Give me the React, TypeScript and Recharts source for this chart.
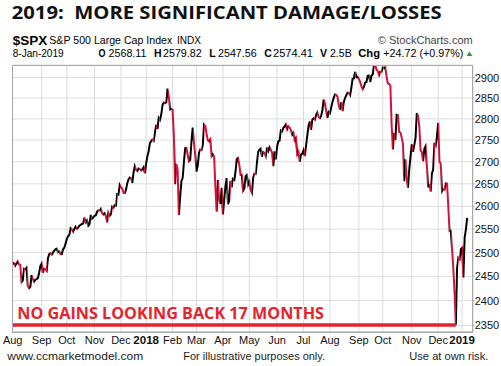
import React from "react";
import { LineChart, Line, XAxis, YAxis, CartesianGrid, ReferenceLine } from "recharts";

// S&P 500 daily closes, 1-Aug-2017 .. 8-Jan-2019 (trading-day index = position)
const closes: number[] = [
  // Aug 2017
  2476.35, 2477.57, 2472.16, 2476.83, 2480.91, 2474.92, 2474.02, 2438.21, 2441.32, 2465.84,
  2464.61, 2468.11, 2430.01, 2425.55, 2428.37, 2452.51, 2444.04, 2438.97, 2443.05, 2444.24,
  2446.3, 2457.59, 2471.65,
  // Sep 2017
  2476.55, 2457.85, 2465.54, 2465.1, 2461.43, 2488.11, 2496.48, 2498.37, 2495.62, 2500.23,
  2503.87, 2506.65, 2508.24, 2500.6, 2502.22, 2496.66, 2496.84, 2507.04, 2510.06, 2519.36,
  // Oct 2017
  2529.12, 2534.58, 2537.74, 2552.07, 2549.33, 2544.73, 2550.64, 2555.24, 2550.93, 2553.17,
  2557.64, 2559.36, 2561.26, 2562.1, 2575.21, 2564.98, 2569.13, 2557.15, 2560.4, 2581.07,
  2572.83, 2575.26,
  // Nov 2017
  2579.36, 2579.85, 2587.84, 2591.13, 2590.64, 2594.38, 2584.62, 2582.3, 2584.84, 2578.87,
  2564.62, 2585.64, 2578.85, 2582.14, 2599.03, 2597.08, 2602.42, 2601.42, 2627.04, 2626.07,
  2647.58,
  // Dec 2017
  2642.22, 2639.44, 2629.57, 2629.27, 2636.98, 2651.5, 2659.99, 2664.11, 2662.85, 2652.01,
  2675.81, 2690.16, 2681.47, 2679.25, 2684.57, 2683.34, 2680.5, 2682.62, 2687.54, 2673.61,
  // Jan 2018
  2695.81, 2713.06, 2723.99, 2743.15, 2747.71, 2751.29, 2748.23, 2767.56, 2786.24, 2776.42,
  2802.56, 2798.03, 2810.3, 2832.97, 2839.13, 2837.54, 2839.25, 2872.87, 2853.53, 2822.43,
  2823.81,
  // Feb 2018
  2821.98, 2762.13, 2648.94, 2695.14, 2681.66, 2581.0, 2619.55, 2656.0, 2662.94, 2698.63,
  2731.2, 2732.22, 2716.26, 2701.33, 2703.96, 2747.3, 2779.6, 2744.28, 2713.83,
  // Mar 2018
  2677.67, 2691.25, 2720.94, 2728.12, 2726.8, 2738.97, 2786.57, 2783.02, 2765.31, 2749.48,
  2747.33, 2752.01, 2712.92, 2716.94, 2711.93, 2643.69, 2588.26, 2658.55, 2612.62, 2605.0,
  2640.87,
  // Apr 2018
  2581.88, 2614.45, 2644.69, 2662.84, 2604.47, 2613.16, 2656.87, 2642.19, 2663.99, 2656.3,
  2677.84, 2706.39, 2708.64, 2693.13, 2670.14, 2670.29, 2634.56, 2639.4, 2666.94, 2669.91,
  2648.05,
  // May 2018
  2654.8, 2635.67, 2629.73, 2663.42, 2672.63, 2671.92, 2697.79, 2723.07, 2727.72, 2730.13,
  2711.45, 2722.46, 2720.13, 2712.97, 2733.01, 2724.44, 2733.29, 2727.76, 2721.33, 2689.86,
  2724.01, 2705.27,
  // Jun 2018
  2734.62, 2746.87, 2748.8, 2772.35, 2770.37, 2779.03, 2782.0, 2786.85, 2775.63, 2782.49,
  2779.66, 2773.75, 2762.59, 2767.32, 2749.76, 2754.88, 2717.07, 2723.06, 2699.63, 2716.31,
  2718.37,
  // Jul 2018
  2726.71, 2713.22, 2736.61, 2759.82, 2784.17, 2793.84, 2774.02, 2798.29, 2801.31, 2798.43,
  2809.55, 2815.62, 2804.49, 2801.83, 2806.98, 2820.4, 2846.07, 2837.44, 2818.82, 2802.6,
  2816.29,
  // Aug 2018
  2813.36, 2827.22, 2840.35, 2850.4, 2858.45, 2857.7, 2853.58, 2833.28, 2821.93, 2839.96,
  2818.37, 2840.69, 2850.13, 2857.05, 2862.96, 2861.82, 2856.98, 2874.69, 2896.74, 2897.52,
  2914.04, 2901.13, 2901.52,
  // Sep 2018
  2896.72, 2888.6, 2878.05, 2871.68, 2877.13, 2887.89, 2888.92, 2904.18, 2904.98, 2888.8,
  2904.31, 2907.95, 2930.75, 2929.67, 2919.37, 2915.56, 2905.97, 2914.0, 2913.98,
  // Oct 2018
  2924.59, 2923.43, 2925.51, 2901.61, 2885.57, 2884.43, 2880.34, 2785.68, 2728.37, 2767.13,
  2750.79, 2809.92, 2809.21, 2768.78, 2767.78, 2755.88, 2740.69, 2656.1, 2705.57, 2658.69,
  2641.25, 2682.63, 2711.74,
  // Nov 2018
  2740.37, 2723.06, 2738.31, 2755.45, 2813.89, 2806.83, 2781.01, 2726.22, 2722.18, 2701.58,
  2730.2, 2736.27, 2690.73, 2641.89, 2649.93, 2632.56, 2673.45, 2682.17, 2743.79, 2737.8,
  2760.17,
  // Dec 2018
  2790.37, 2700.06, 2695.95, 2633.08, 2637.72, 2636.78, 2651.07, 2650.54, 2599.95, 2545.94,
  2546.16, 2506.96, 2467.42, 2416.62, 2351.1, 2467.7, 2488.83, 2485.74, 2506.85,
  // Jan 2019
  2510.03, 2447.89, 2531.94, 2549.69, 2574.41,
];

const monthTicks: number[] = [0, 23, 43, 65, 86, 106, 127, 146, 167, 188, 210, 231, 252, 275, 294, 317, 338, 357];
const monthLabels: string[] = ["Aug", "Sep", "Oct", "Nov", "Dec", "2018", "Feb", "Mar", "Apr", "May", "Jun", "Jul", "Aug", "Sep", "Oct", "Nov", "Dec", "2019"];
const yTicks: number[] = [2350, 2400, 2450, 2500, 2550, 2600, 2650, 2700, 2750, 2800, 2850, 2900];
const lowIndex = 352;
const lowValue = 2351.1;

const UP = "#000000";
const DOWN = "#d3123c";

const rows = closes.map((v, i) => ({ t: i, v }));

const n = closes.length - 1;
const stops: { off: number; color: string }[] = [];
for (let i = 0; i < n; i++) {
  const c = closes[i + 1] >= closes[i] ? UP : DOWN;
  stops.push({ off: i / n, color: c });
  stops.push({ off: (i + 1) / n, color: c });
}

const AX_FONT = "'Liberation Sans', Arial, sans-serif";

const XTick = (props: any) => {
  const { x, y, payload } = props;
  const idx = monthTicks.indexOf(payload.value);
  const label = idx >= 0 ? monthLabels[idx] : "";
  const bold = /\d/.test(label);
  return (
    <text x={x} y={y + 12} textAnchor="middle" fontFamily={AX_FONT} fontSize={bold ? 11.5 : 11} fontWeight={bold ? 700 : 400} fill="#111">
      {label}
    </text>
  );
};

const YTick = (props: any) => {
  const { x, y, payload } = props;
  return (
    <text x={x} y={y + 4} textAnchor="start" fontFamily={AX_FONT} fontSize={11} fill="#111">
      {payload.value}
    </text>
  );
};

export default function App() {
  return (
    <div style={{ position: "absolute", left: 0, top: 0, width: 501, height: 366, background: "#fff", overflow: "hidden" }}>
      <LineChart width={501} height={366} data={rows} margin={{ top: 65, right: 0, bottom: 14, left: 12.7 }}>
        <defs>
          <linearGradient id="dirGrad" x1="0" y1="0" x2="1" y2="0">
            {stops.map((s, i) => (
              <stop key={i} offset={s.off} stopColor={s.color} />
            ))}
          </linearGradient>
        </defs>
        <CartesianGrid stroke="#dcdcdc" strokeWidth={1} />
        <XAxis
          dataKey="t"
          type="number"
          domain={[0, 365.4]}
          allowDataOverflow
          ticks={monthTicks}
          interval={0}
          tick={<XTick />}
          tickLine={false}
          tickSize={0}
          tickMargin={0}
          height={20}
          axisLine={{ stroke: "#a8a8a8" }}
        />
        <YAxis
          orientation="right"
          scale="log"
          domain={[2337, 2931]}
          allowDataOverflow
          ticks={yTicks}
          interval={0}
          tick={<YTick />}
          tickSize={2}
          tickMargin={0}
          tickLine={{ stroke: "#a8a8a8" }}
          width={28.3}
          axisLine={{ stroke: "#a8a8a8" }}
        />
        <ReferenceLine
          segment={[{ x: 0, y: lowValue }, { x: lowIndex, y: lowValue }]}
          stroke="#e5232c"
          strokeWidth={3.5}
          ifOverflow="visible"
        />
        <Line
          type="linear"
          dataKey="v"
          stroke="url(#dirGrad)"
          strokeWidth={2}
          dot={false}
          activeDot={false}
          isAnimationActive={false}
        />
      </LineChart>
      <div style={{ position: "absolute", left: 12, top: 64.5, width: 461, height: 268, border: "1px solid #a8a8a8", boxSizing: "border-box", pointerEvents: "none" }} />
      <svg width={501} height={366} style={{ position: "absolute", left: 0, top: 0, pointerEvents: "none" }}>
        <text x={11.7} y={19.3} fontFamily="'Open Sans', sans-serif" fontWeight={700} fontSize={18.5} fill="#111" textLength={430} lengthAdjust="spacingAndGlyphs" xmlSpace="preserve">
          2019:  MORE SIGNIFICANT DAMAGE/LOSSES
        </text>
        <text x={12.7} y={45} fontFamily={AX_FONT} fontWeight={700} fontSize={13.5} fill="#000">$SPX</text>
        <text x={49.3} y={44.3} fontFamily={AX_FONT} fontSize={11} fill="#000" textLength={123} lengthAdjust="spacingAndGlyphs">S&amp;P 500 Large Cap Index</text>
        <text x={177} y={44.3} fontFamily={AX_FONT} fontSize={10} fill="#000" textLength={24} lengthAdjust="spacingAndGlyphs">INDX</text>
        <text x={472.7} y={44.3} textAnchor="end" fontFamily={AX_FONT} fontSize={11} fill="#444">© StockCharts.com</text>
        <text x={12.7} y={56.7} fontFamily={AX_FONT} fontSize={10} fill="#000" textLength={51} lengthAdjust="spacingAndGlyphs">8-Jan-2019</text>
        <text x={98.5} y={56.7} fontFamily={AX_FONT} fontSize={10.5} fontWeight={700} fill="#000" textLength={7} lengthAdjust="spacingAndGlyphs">O</text>
        <text x={108.5} y={56.7} fontFamily={AX_FONT} fontSize={10.5} fill="#000" textLength={38} lengthAdjust="spacingAndGlyphs">2568.11</text>
        <text x={154} y={56.7} fontFamily={AX_FONT} fontSize={10.5} fontWeight={700} fill="#000">H</text>
        <text x={163} y={56.7} fontFamily={AX_FONT} fontSize={10.5} fill="#000" textLength={38.7} lengthAdjust="spacingAndGlyphs">2579.82</text>
        <text x={209.3} y={56.7} fontFamily={AX_FONT} fontSize={10.5} fontWeight={700} fill="#000">L</text>
        <text x={218} y={56.7} fontFamily={AX_FONT} fontSize={10.5} fill="#000" textLength={38.7} lengthAdjust="spacingAndGlyphs">2547.56</text>
        <text x={264.3} y={56.7} fontFamily={AX_FONT} fontSize={10.5} fontWeight={700} fill="#000">C</text>
        <text x={273} y={56.7} fontFamily={AX_FONT} fontSize={10.5} fill="#000" textLength={40} lengthAdjust="spacingAndGlyphs">2574.41</text>
        <text x={320} y={56.7} fontFamily={AX_FONT} fontSize={10.5} fontWeight={700} fill="#000">V</text>
        <text x={330} y={56.7} fontFamily={AX_FONT} fontSize={10.5} fill="#000" textLength={21.7} lengthAdjust="spacingAndGlyphs">2.5B</text>
        <text x={358.3} y={56.7} fontFamily={AX_FONT} fontSize={10.5} fontWeight={700} fill="#000" textLength={21.7} lengthAdjust="spacingAndGlyphs">Chg</text>
        <text x={383.3} y={56.7} fontFamily={AX_FONT} fontSize={10.5} fill="#000" textLength={80} lengthAdjust="spacingAndGlyphs">+24.72 (+0.97%)</text>
        <polygon points="466.5,56 472.5,56 469.5,51.5" fill="#2e9a2e" />
        <text x={17.3} y={319.3} fontFamily="'Open Sans', sans-serif" fontWeight={700} fontSize={16.5} fill="#e8222c" stroke="#ffffff" strokeWidth={2} paintOrder="stroke" textLength={306.7} lengthAdjust="spacingAndGlyphs">
          NO GAINS LOOKING BACK 17 MONTHS
        </text>
        <text x={7.3} y={360.3} fontFamily={AX_FONT} fontSize={11.5} fill="#222" textLength={136} lengthAdjust="spacingAndGlyphs">www.ccmarketmodel.com</text>
        <text x={183.3} y={360.3} fontFamily={AX_FONT} fontSize={11.5} fill="#222" textLength={141.7} lengthAdjust="spacingAndGlyphs">For illustrative purposes only.</text>
        <text x={409.3} y={360.3} fontFamily={AX_FONT} fontSize={11.5} fill="#222" textLength={79} lengthAdjust="spacingAndGlyphs">Use at own risk.</text>
      </svg>
    </div>
  );
}
